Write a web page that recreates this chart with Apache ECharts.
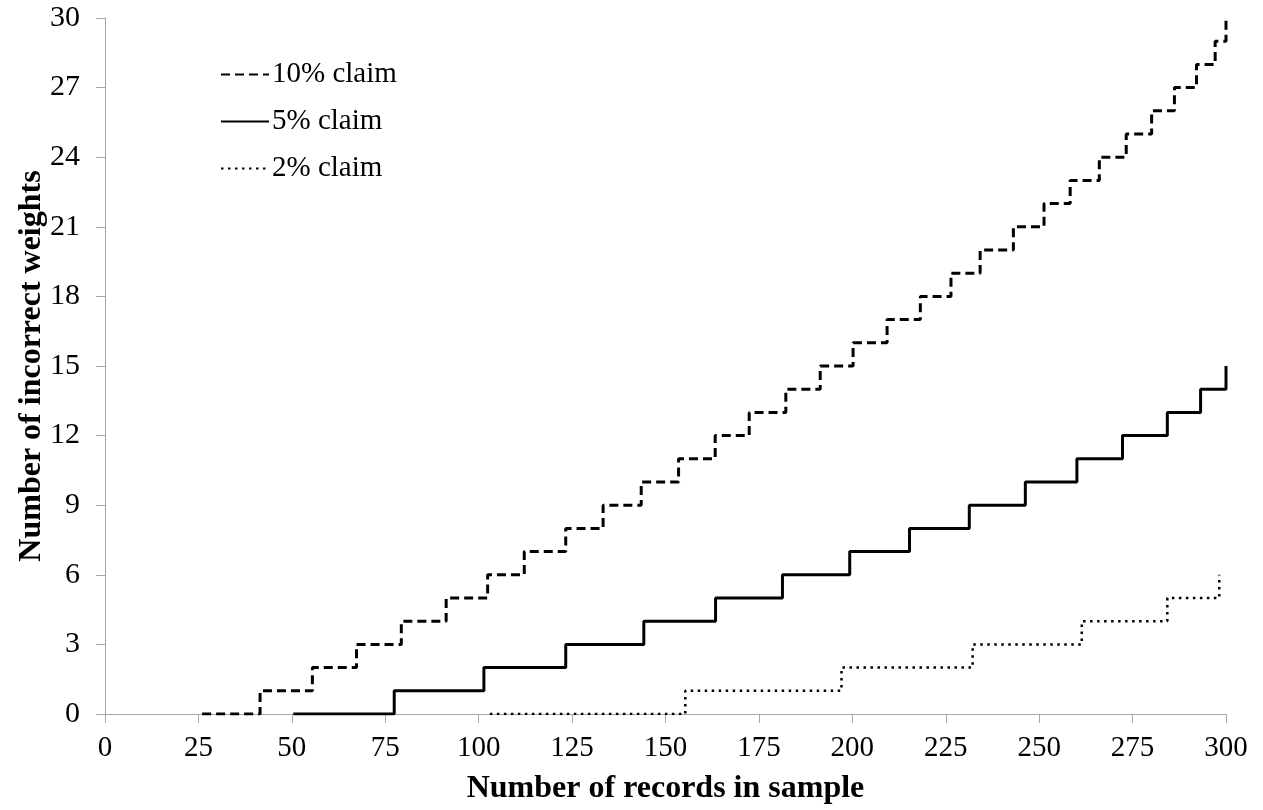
<!DOCTYPE html>
<html>
<head>
<meta charset="utf-8">
<script src="https://cdn.jsdelivr.net/npm/echarts@6/dist/echarts.min.js"></script>
<style>
html,body{margin:0;padding:0;background:#fff;}
#chart{width:1263px;height:810px;}
</style>
</head>
<body>
<div id="chart"></div>
<script>
const seriesNames = ['10% claim', '5% claim', '2% claim'];
// step points: sample size where the count rises, and the new count
const claim10X = [26, 41.5, 55.5, 67.3, 79.3, 91.3, 102.4, 112.2, 123.3, 133.3, 143.5, 153.5, 163.3, 172.4, 182.2, 191.4, 200.2, 209.3, 218.2, 226.4, 234.2, 243.1, 251.3, 258.3, 266.1, 273.3, 280.1, 286.2, 292.1, 297.1, 300];
const claim10Y = [0, 1, 2, 3, 4, 5, 6, 7, 8, 9, 10, 11, 12, 13, 14, 15, 16, 17, 18, 19, 20, 21, 22, 23, 24, 25, 26, 27, 28, 29, 30];
const claim5X = [50.4, 77.4, 101.4, 123.3, 144.2, 163.4, 181.3, 199.3, 215.3, 231.3, 246.3, 260.1, 272.3, 284.3, 293.2, 300];
const claim5Y = [0, 1, 2, 3, 4, 5, 6, 7, 8, 9, 10, 11, 12, 13, 14, 15];
const claim2X = [103, 155.3, 197.1, 232.2, 261.4, 284.3, 298.2];
const claim2Y = [0, 1, 2, 3, 4, 5, 6];

const xTitle = 'Number of records in sample';
const yTitle = 'Number of incorrect weights';

function pairs(xs, ys) { return xs.map((x, i) => [x, ys[i]]); }

const FONT = "'Liberation Serif', 'Times New Roman', serif";
const chart = echarts.init(document.getElementById('chart'));
chart.setOption({
  animation: false,
  backgroundColor: '#ffffff',
  grid: { left: 105, right: 37, top: 18, bottom: 95, containLabel: false },
  legend: {
    orient: 'vertical',
    left: 215,
    top: 55,
    itemWidth: 48,
    itemHeight: 14,
    itemGap: 18,
    itemStyle: { opacity: 0 },
    textStyle: { fontFamily: FONT, fontSize: 29, color: '#000', lineHeight: 28, padding: [0, 0, 0, -2] },
    data: seriesNames
  },
  xAxis: {
    type: 'value',
    min: 0, max: 300, interval: 25,
    name: xTitle,
    nameLocation: 'middle',
    nameGap: 59,
    nameMoveOverlap: false,
    nameTextStyle: { fontFamily: FONT, fontSize: 32, fontWeight: 'bold', color: '#000' },
    axisLine: { show: true, lineStyle: { color: '#a6a6a6', width: 1 } },
    axisTick: { show: true, length: 9, lineStyle: { color: '#a6a6a6' } },
    axisLabel: { fontFamily: FONT, fontSize: 29, color: '#000', margin: 20 },
    splitLine: { show: false }
  },
  yAxis: {
    type: 'value',
    min: 0, max: 30, interval: 3,
    name: yTitle,
    nameLocation: 'middle',
    nameGap: 57,
    nameMoveOverlap: false,
    nameRotate: 90,
    nameTextStyle: { fontFamily: FONT, fontSize: 32, fontWeight: 'bold', color: '#000' },
    axisLine: { show: true, lineStyle: { color: '#a6a6a6', width: 1 } },
    axisTick: { show: true, length: 9, lineStyle: { color: '#a6a6a6' } },
    axisLabel: { fontFamily: FONT, fontSize: 30, color: '#000', margin: 25 },
    splitLine: { show: false }
  },
  series: [
    {
      name: seriesNames[0], type: 'line', step: 'end', symbol: 'none',
      data: pairs(claim10X, claim10Y),
      lineStyle: { color: '#000', width: 3, type: [9, 5], cap: 'butt' },
      itemStyle: { color: '#000' }
    },
    {
      name: seriesNames[1], type: 'line', step: 'end', symbol: 'none',
      data: pairs(claim5X, claim5Y),
      lineStyle: { color: '#000', width: 3, type: 'solid' },
      itemStyle: { color: '#000' }
    },
    {
      name: seriesNames[2], type: 'line', step: 'end', symbol: 'none',
      data: pairs(claim2X, claim2Y),
      lineStyle: { color: '#000', width: 2.5, type: [2.5, 4.5], cap: 'butt' },
      itemStyle: { color: '#000' }
    }
  ]
});
</script>
</body>
</html>
